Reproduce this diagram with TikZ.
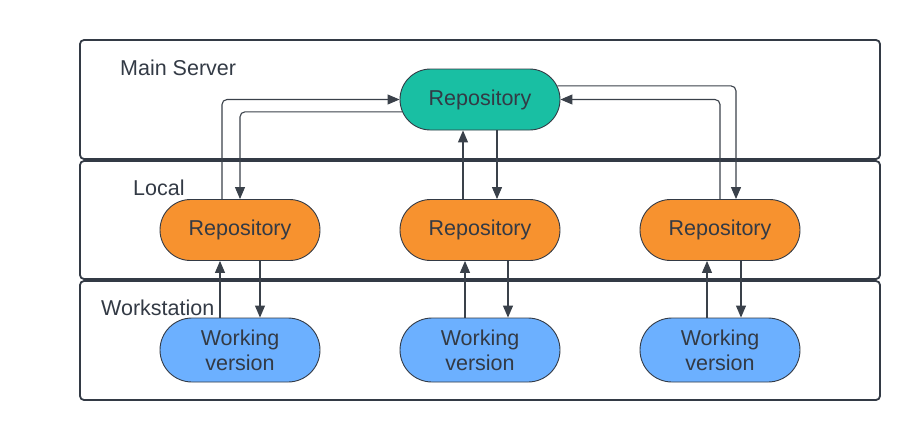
\documentclass[tikz,border=0pt]{standalone}
\usepackage{fontspec}
\setmainfont{Liberation Sans}
\usetikzlibrary{positioning, shapes.misc, arrows.meta}

\definecolor{serverfill}{HTML}{19BFA3}
\definecolor{localfill}{HTML}{F7922F}
\definecolor{workfill}{HTML}{6CB0FF}
\definecolor{inkgrey}{HTML}{333A45}
\definecolor{linegrey}{HTML}{3A414A}

\tikzset{
    repo/.style={rounded rectangle, draw=inkgrey, line width=0.9pt,
        minimum width=160pt, minimum height=61pt, inner sep=0pt,
        text=inkgrey, font=\fontsize{21.5}{25}\selectfont, align=center},
    serverrepo/.style={repo, fill=serverfill},
    localrepo/.style={repo, fill=localfill},
    workrepo/.style={repo, fill=workfill, minimum height=64pt},
    band/.style={draw=inkgrey, line width=1.8pt, rounded corners=4pt},
    bandlabel/.style={anchor=west, inner sep=0pt, text=inkgrey,
        font=\fontsize{21.5}{25}\selectfont},
    flow/.style={draw=linegrey, line width=1.1pt, rounded corners=5pt,
        -{Triangle[width=10pt,length=12pt]}}
}

\begin{document}
\begin{tikzpicture}[x=1pt, y=-1pt, node distance=120pt, on grid]
    \useasboundingbox (0,0) rectangle (920,440);
    % bands
    \draw[band] (80,40) rectangle (880,159);
    \draw[band] (80,161) rectangle (880,279);
    \draw[band] (80,281) rectangle (880,400);
    \node[bandlabel] (lbl_server) at (120,68) {Main Server};
    \node[bandlabel] (lbl_local) at (133,188) {Local};
    \node[bandlabel] (lbl_work) at (101,308) {Workstation};

    % nodes
    \node[serverrepo] (m) at (480,99.5) {Repository};
    \node[localrepo] (l_2) [below=130.5pt of m] {Repository};
    \node[localrepo] (l_1) [left=240pt of l_2] {Repository};
    \node[localrepo] (l_3) [right=240pt of l_2] {Repository};
    \node[workrepo] (w_1) [below= of l_1] {Working\\version};
    \node[workrepo] (w_2) [below= of l_2] {Working\\version};
    \node[workrepo] (w_3) [below= of l_3] {Working\\version};

    % server <-> local
    \path[flow] ([xshift=-18pt]l_1.north) |- (m.west);
    \path[flow] (m.189) -| (l_1.north);
    \path[flow] ([xshift=-17pt]l_2.north) -- ([xshift=-17pt]m.south);
    \path[flow] ([xshift=17pt]m.south) -- ([xshift=17pt]l_2.north);
    \path[flow] (l_3.north) |- (m.east);
    \path[flow] (m.10) -| ([xshift=16pt]l_3.north);

    % local <-> workstation
    \path[flow] ([xshift=-20pt]w_1.north) -- ([xshift=-20pt]l_1.south);
    \path[flow] ([xshift=20pt]l_1.south) -- ([xshift=20pt]w_1.north);
    \path[flow] ([xshift=-15pt]w_2.north) -- ([xshift=-15pt]l_2.south);
    \path[flow] ([xshift=28pt]l_2.south) -- ([xshift=28pt]w_2.north);
    \path[flow] ([xshift=-13pt]w_3.north) -- ([xshift=-13pt]l_3.south);
    \path[flow] ([xshift=21pt]l_3.south) -- ([xshift=21pt]w_3.north);
\end{tikzpicture}
\end{document}
